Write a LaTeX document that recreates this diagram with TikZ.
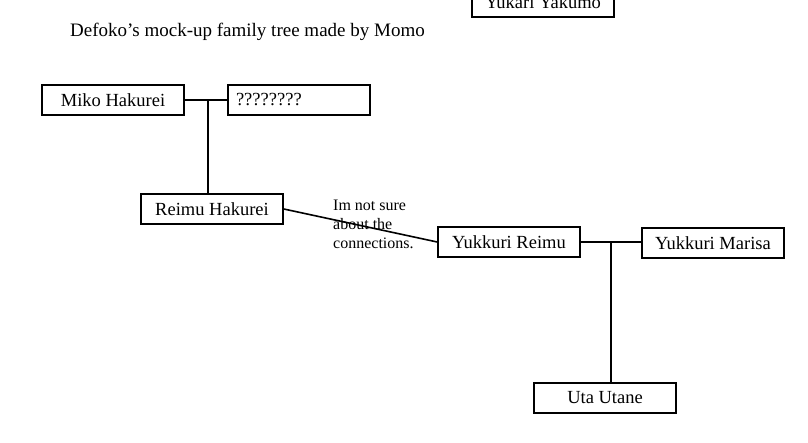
\documentclass[tikz,border=0pt]{standalone}
\usepackage{fontspec}
\setmainfont{Liberation Serif}
\usetikzlibrary{positioning,calc}

\begin{document}
\begin{tikzpicture}[x=1pt,y=-1pt,
  person/.style={draw, line width=1.6pt, minimum width=142pt, minimum height=30pt, inner sep=0pt, font=\fontsize{18.5}{20}\selectfont},
  link/.style={line width=1.6pt},
  note/.style={align=left, font=\fontsize{16}{19}\selectfont, inner sep=0pt},
  every node/.style={anchor=center}]

\useasboundingbox (0,0) rectangle (808,443);

% Title and the people
\node[font=\fontsize{19}{21}\selectfont, anchor=west, inner sep=0pt] (title) at (70,32) {Defoko's mock-up family tree made by Momo};
\node[person] (yukari) at (543,2) {Yukari Yakumo};
\node[person] (miko) at (113,100) {Miko Hakurei};
\node[person, text width=126pt, align=left] (unknown) at (299,100) {????????};
\node[person] (reimu) at (212,209) {Reimu Hakurei};
\node[person] (yreimu) at (509,242) {Yukkuri Reimu};
\node[person] (ymarisa) at (713,243) {Yukkuri Marisa};
\node[person] (uta) at (605,398) {Uta Utane};

% Marriage lines and children
\draw[link] (miko.east) -- (unknown.west);
\coordinate (mikoMid) at ($(miko.east)!0.55!(unknown.west)$);
\draw[link] (mikoMid) -- (mikoMid |- reimu.north);
\draw[link] (reimu.east) -- (yreimu.west);
\draw[link] (yreimu.east) -- (ymarisa.west |- yreimu.east);
\coordinate (yMid) at ($(yreimu.east)!0.5!(ymarisa.west |- yreimu.east)$);
\draw[link] (yMid) -- (yMid |- uta.north);

\node[note, anchor=north west] (doubt) at (333,200) {Im not sure\\about the\\connections.};

\end{tikzpicture}
\end{document}
